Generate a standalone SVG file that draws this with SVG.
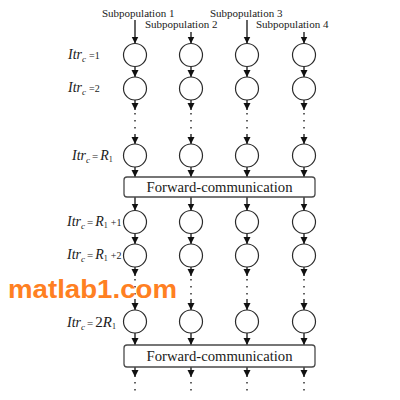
<svg xmlns="http://www.w3.org/2000/svg" width="400" height="400" viewBox="0 0 400 400">
<style>
.serif{font-family:"Liberation Serif","DejaVu Serif",serif;fill:#1a1a1a}
.it{font-style:italic}
.node{fill:#fff;stroke:#2a2a2a;stroke-width:1.2}
.box{fill:#fff;stroke:#4a4a4a;stroke-width:1.3}
.arr{stroke:#111;stroke-width:1.3;fill:none;marker-end:url(#ah)}
.dot{stroke:#222;stroke-width:1.4;fill:none;stroke-dasharray:1.4 5.6}
.boxtxt{font-size:14px;text-anchor:middle}
.sub{font-size:11px}
</style>
<defs>
<marker id="ah" markerUnits="userSpaceOnUse" markerWidth="8" markerHeight="8" refX="7" refY="3.5" orient="auto">
<path d="M0,0 L7,3.5 L0,7 z" fill="#111"/>
</marker>
</defs>
<rect width="400" height="400" fill="#fff"/>

<g id="top-labels" class="serif sub">
<text x="102" y="17">Subpopulation 1</text>
<text x="145" y="28">Subpopulation 2</text>
<text x="210" y="17">Subpopulation 3</text>
<text x="256" y="28">Subpopulation 4</text>
</g>

<g id="row-labels" class="serif">
<text x="68" y="59"><tspan class="it" font-size="14">Itr</tspan><tspan class="it" font-size="9" dy="3">c</tspan><tspan font-size="10" dy="-3" dx="3">=1</tspan></text>
<text x="68" y="92"><tspan class="it" font-size="14">Itr</tspan><tspan class="it" font-size="9" dy="3">c</tspan><tspan font-size="10" dy="-3" dx="3">=2</tspan></text>
<text x="72" y="160"><tspan class="it" font-size="14">Itr</tspan><tspan class="it" font-size="9" dy="3">c</tspan><tspan font-size="11" dy="-3" dx="2">=</tspan><tspan class="it" font-size="14" dx="2">R</tspan><tspan font-size="8" dy="2">1</tspan></text>
<text x="67" y="226"><tspan class="it" font-size="14">Itr</tspan><tspan class="it" font-size="9" dy="3">c</tspan><tspan font-size="11" dy="-3" dx="2">=</tspan><tspan class="it" font-size="14" dx="2">R</tspan><tspan font-size="8" dy="2">1</tspan><tspan font-size="10" dy="-2" dx="3">+1</tspan></text>
<text x="67" y="259"><tspan class="it" font-size="14">Itr</tspan><tspan class="it" font-size="9" dy="3">c</tspan><tspan font-size="11" dy="-3" dx="2">=</tspan><tspan class="it" font-size="14" dx="2">R</tspan><tspan font-size="8" dy="2">1</tspan><tspan font-size="10" dy="-2" dx="3">+2</tspan></text>
<text x="67" y="327"><tspan class="it" font-size="14">Itr</tspan><tspan class="it" font-size="9" dy="3">c</tspan><tspan font-size="11" dy="-3" dx="2">=</tspan><tspan font-size="15" dx="2">2</tspan><tspan class="it" font-size="15">R</tspan><tspan font-size="8" dy="2">1</tspan></text>
</g>

<g id="connectors">
<!-- column 1 x=135 -->
<line class="arr" x1="135" y1="20" x2="135" y2="43.5"/>
<line class="arr" x1="135" y1="66.5" x2="135" y2="77"/>
<line class="arr" x1="135" y1="100" x2="135" y2="110"/>
<line class="dot" x1="135" y1="113" x2="135" y2="134"/>
<line class="arr" x1="135" y1="134" x2="135" y2="144"/>
<line class="arr" x1="135" y1="167" x2="135" y2="177"/>
<line class="arr" x1="135" y1="197" x2="135" y2="210.5"/>
<line class="arr" x1="135" y1="233.5" x2="135" y2="244"/>
<line class="arr" x1="135" y1="267" x2="135" y2="276"/>
<line class="dot" x1="135" y1="279" x2="135" y2="299"/>
<line class="arr" x1="135" y1="299" x2="135" y2="310"/>
<line class="arr" x1="135" y1="333" x2="135" y2="345"/>
<line class="arr" x1="135" y1="367" x2="135" y2="377"/>
<line class="dot" x1="135" y1="382" x2="135" y2="396"/>
<!-- column 2 x=191 -->
<line class="arr" x1="191" y1="32" x2="191" y2="43.5"/>
<line class="arr" x1="191" y1="66.5" x2="191" y2="77"/>
<line class="arr" x1="191" y1="100" x2="191" y2="110"/>
<line class="dot" x1="191" y1="113" x2="191" y2="134"/>
<line class="arr" x1="191" y1="134" x2="191" y2="144"/>
<line class="arr" x1="191" y1="167" x2="191" y2="177"/>
<line class="arr" x1="191" y1="197" x2="191" y2="210.5"/>
<line class="arr" x1="191" y1="233.5" x2="191" y2="244"/>
<line class="arr" x1="191" y1="267" x2="191" y2="276"/>
<line class="dot" x1="191" y1="279" x2="191" y2="299"/>
<line class="arr" x1="191" y1="299" x2="191" y2="310"/>
<line class="arr" x1="191" y1="333" x2="191" y2="345"/>
<line class="arr" x1="191" y1="367" x2="191" y2="377"/>
<line class="dot" x1="191" y1="382" x2="191" y2="396"/>
<!-- column 3 x=247 -->
<line class="arr" x1="247" y1="20" x2="247" y2="43.5"/>
<line class="arr" x1="247" y1="66.5" x2="247" y2="77"/>
<line class="arr" x1="247" y1="100" x2="247" y2="110"/>
<line class="dot" x1="247" y1="113" x2="247" y2="134"/>
<line class="arr" x1="247" y1="134" x2="247" y2="144"/>
<line class="arr" x1="247" y1="167" x2="247" y2="177"/>
<line class="arr" x1="247" y1="197" x2="247" y2="210.5"/>
<line class="arr" x1="247" y1="233.5" x2="247" y2="244"/>
<line class="arr" x1="247" y1="267" x2="247" y2="276"/>
<line class="dot" x1="247" y1="279" x2="247" y2="299"/>
<line class="arr" x1="247" y1="299" x2="247" y2="310"/>
<line class="arr" x1="247" y1="333" x2="247" y2="345"/>
<line class="arr" x1="247" y1="367" x2="247" y2="377"/>
<line class="dot" x1="247" y1="382" x2="247" y2="396"/>
<!-- column 4 x=304 -->
<line class="arr" x1="304" y1="32" x2="304" y2="43.5"/>
<line class="arr" x1="304" y1="66.5" x2="304" y2="77"/>
<line class="arr" x1="304" y1="100" x2="304" y2="110"/>
<line class="dot" x1="304" y1="113" x2="304" y2="134"/>
<line class="arr" x1="304" y1="134" x2="304" y2="144"/>
<line class="arr" x1="304" y1="167" x2="304" y2="177"/>
<line class="arr" x1="304" y1="197" x2="304" y2="210.5"/>
<line class="arr" x1="304" y1="233.5" x2="304" y2="244"/>
<line class="arr" x1="304" y1="267" x2="304" y2="276"/>
<line class="dot" x1="304" y1="279" x2="304" y2="299"/>
<line class="arr" x1="304" y1="299" x2="304" y2="310"/>
<line class="arr" x1="304" y1="333" x2="304" y2="345"/>
<line class="arr" x1="304" y1="367" x2="304" y2="377"/>
<line class="dot" x1="304" y1="382" x2="304" y2="396"/>
</g>

<g id="row-1">
<circle class="node" cx="135" cy="55" r="11.5"/><circle class="node" cx="191" cy="55" r="11.5"/><circle class="node" cx="247" cy="55" r="11.5"/><circle class="node" cx="304" cy="55" r="11.5"/>
</g>
<g id="row-2">
<circle class="node" cx="135" cy="88.5" r="11.5"/><circle class="node" cx="191" cy="88.5" r="11.5"/><circle class="node" cx="247" cy="88.5" r="11.5"/><circle class="node" cx="304" cy="88.5" r="11.5"/>
</g>
<g id="row-R1">
<circle class="node" cx="135" cy="155.5" r="11.5"/><circle class="node" cx="191" cy="155.5" r="11.5"/><circle class="node" cx="247" cy="155.5" r="11.5"/><circle class="node" cx="304" cy="155.5" r="11.5"/>
</g>
<g id="forward-1">
<rect class="box" x="124" y="177" width="191" height="20" rx="3"/>
<text class="serif boxtxt" x="219.5" y="192" textLength="146" lengthAdjust="spacingAndGlyphs">Forward-communication</text>
</g>
<g id="row-R1p1">
<circle class="node" cx="135" cy="222" r="11.5"/><circle class="node" cx="191" cy="222" r="11.5"/><circle class="node" cx="247" cy="222" r="11.5"/><circle class="node" cx="304" cy="222" r="11.5"/>
</g>
<g id="row-R1p2">
<circle class="node" cx="135" cy="255.5" r="11.5"/><circle class="node" cx="191" cy="255.5" r="11.5"/><circle class="node" cx="247" cy="255.5" r="11.5"/><circle class="node" cx="304" cy="255.5" r="11.5"/>
</g>
<g id="row-2R1">
<circle class="node" cx="135" cy="321.5" r="11.5"/><circle class="node" cx="191" cy="321.5" r="11.5"/><circle class="node" cx="247" cy="321.5" r="11.5"/><circle class="node" cx="304" cy="321.5" r="11.5"/>
</g>
<g id="forward-2">
<rect class="box" x="124" y="345" width="191" height="22" rx="3"/>
<text class="serif boxtxt" x="219.5" y="361" textLength="146" lengthAdjust="spacingAndGlyphs">Forward-communication</text>
</g>

<text x="8" y="298" font-family="'Liberation Sans',Arial,sans-serif" font-weight="bold" font-size="26" fill="#FF8022" textLength="169" lengthAdjust="spacingAndGlyphs">matlab1.com</text>
</svg>
